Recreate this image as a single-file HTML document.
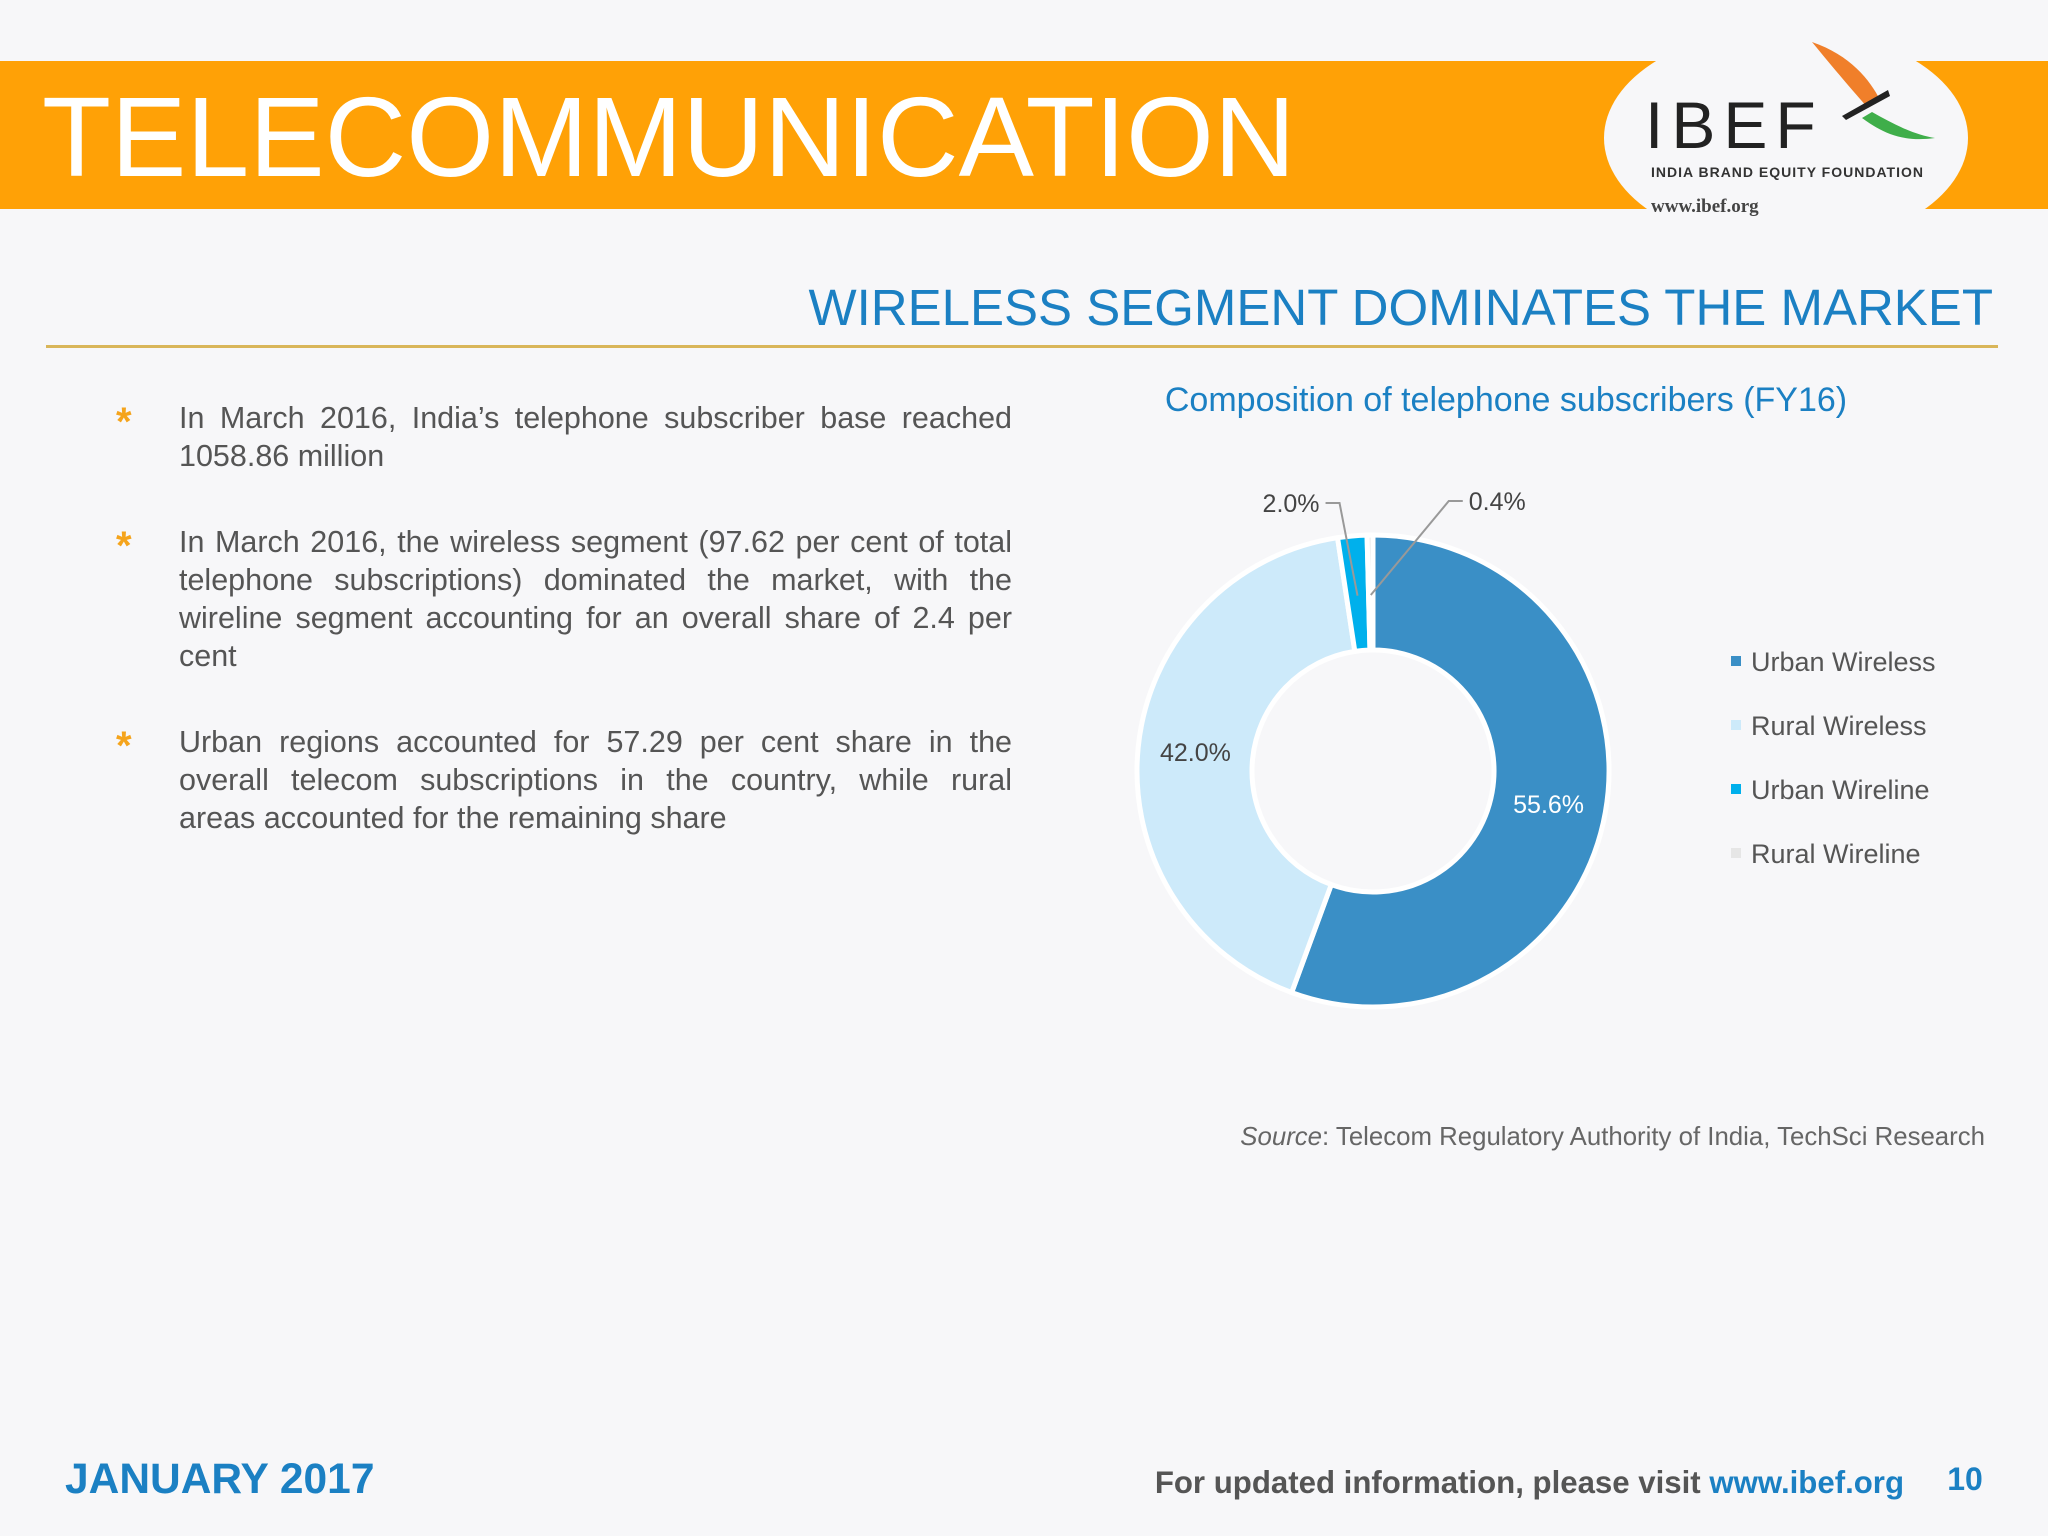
<!DOCTYPE html>
<html><head><meta charset="utf-8"><style>
html,body{margin:0;padding:0;background:#f7f7f9;}
body{width:2048px;height:1536px;overflow:hidden;font-family:"Liberation Sans",Arial,sans-serif;position:relative;}
.bul{position:absolute;left:179px;width:833px;font-size:30.5px;line-height:38px;color:#555;text-align:justify;}
.last{text-align-last:justify;}
.star{position:absolute;left:116px;font-size:40px;font-weight:bold;color:#f5a41c;line-height:40px;}
</style></head><body>
<svg id="page" style="position:absolute;left:0;top:0" width="2048" height="1536" viewBox="0 0 2048 1536" xmlns="http://www.w3.org/2000/svg" font-family="Liberation Sans, Arial, sans-serif">
<rect x="0" y="0" width="2048" height="1536" fill="#f7f7f9"/>
<rect x="0" y="61" width="2048" height="148" fill="#ffa106"/>
<text x="42" y="176" font-size="113" fill="#ffffff">TELECOMMUNICATION</text>
<g>
<ellipse cx="1786" cy="138" rx="182" ry="110" fill="#f7f7f9"/>
<text x="1645" y="148" font-size="66" fill="#222" letter-spacing="8">IBEF</text>
<path d="M1812 42 C1850 55 1870 80 1880 100 L1868 108 C1852 90 1835 70 1812 42Z" fill="#f07f2a"/>
<path d="M1872 112 C1895 125 1915 135 1935 138 C1905 142 1885 135 1862 118Z" fill="#3fae4a"/>
<path d="M1842 116 L1888 90 L1890 96 L1846 120Z" fill="#222"/>
<text x="1651" y="177" font-size="14" font-weight="bold" fill="#333" letter-spacing="1">INDIA BRAND EQUITY FOUNDATION</text>
<text x="1651" y="212" font-size="19" font-weight="bold" fill="#444" font-family="Liberation Serif, serif">www.ibef.org</text>
</g>
<text x="1993" y="325" font-size="51" fill="#1b80c3" text-anchor="end">WIRELESS SEGMENT DOMINATES THE MARKET</text>
<rect x="46" y="345" width="1952" height="3" fill="#d9b65a"/>
<text x="1506" y="411" font-size="34" fill="#1b80c3" text-anchor="middle">Composition of telephone subscribers (FY16)</text>
<g id="donut"></g>
<g id="legend"></g>
<text x="1985" y="1145" font-size="25.8" fill="#666" text-anchor="end"><tspan font-style="italic">Source</tspan>: Telecom Regulatory Authority of India, TechSci Research</text>
<text x="65" y="1493" font-size="42.5" font-weight="bold" fill="#1b80c3">JANUARY 2017</text>
<text x="1904" y="1493" font-size="31.2" font-weight="bold" fill="#555" text-anchor="end">For updated information, please visit <tspan fill="#1b80c3">www.ibef.org</tspan></text>
<text x="1965" y="1490" font-size="32" font-weight="bold" fill="#1b80c3" text-anchor="middle">10</text>
</svg>
<div class="star" style="top:402px">*</div>
<div class="bul" style="top:399px">In March 2016, India’s telephone subscriber base reached 1058.86 million</div>
<div class="star" style="top:526px">*</div>
<div class="bul" style="top:523px">In March 2016, the wireless segment (97.62 per cent of total telephone subscriptions) dominated the market, with the wireline segment accounting for an overall share of 2.4 per cent</div>
<div class="star" style="top:726px">*</div>
<div class="bul last" style="top:723px">Urban regions accounted for 57.29 per cent share in the overall telecom subscriptions in the country, while rural</div>
<div class="bul" style="top:799px">areas accounted for the remaining share</div>
<script>
const categories = ["Urban Wireless", "Rural Wireless", "Urban Wireline", "Rural Wireline"];
const values = [55.6, 42.0, 2.0, 0.4];
const valueLabels = ["55.6%", "42.0%", "2.0%", "0.4%"];
const colors = ["#3a8fc6", "#cdeafa", "#00b0ec", "#e6e6e6"];
const NS = "http://www.w3.org/2000/svg";
const cx = 1373, cy = 771, R = 236, r = 121;
const total = values.reduce((a, b) => a + b, 0);
function angleOf(v) { return v / total * Math.PI * 2; }
function pt(a, rad) { return [cx + rad * Math.sin(a), cy - rad * Math.cos(a)]; }
const donut = document.getElementById('donut');
let start = 0;
values.forEach((v, i) => {
  const end = start + angleOf(v);
  const large = (end - start) > Math.PI ? 1 : 0;
  const p1 = pt(start, R), p2 = pt(end, R), p3 = pt(end, r), p4 = pt(start, r);
  const path = document.createElementNS(NS, 'path');
  path.setAttribute('d', `M${p1[0]},${p1[1]} A${R},${R} 0 ${large} 1 ${p2[0]},${p2[1]} L${p3[0]},${p3[1]} A${r},${r} 0 ${large} 0 ${p4[0]},${p4[1]} Z`);
  path.setAttribute('fill', colors[i]);
  path.setAttribute('stroke', '#ffffff');
  path.setAttribute('stroke-width', '5');
  
  
  donut.appendChild(path);
  const mid = (start + end) / 2;
  const t = document.createElementNS(NS, 'text');
  t.setAttribute('font-size', '25');
  
  
  if (v > 10) {
    const lp = pt(mid, (R + r) / 2 + 10);
    t.setAttribute('x', lp[0] + (i === 0 ? -10 : 10)); t.setAttribute('y', lp[1] + 9);
    t.setAttribute('text-anchor', 'middle');
    t.setAttribute('fill', i === 0 ? '#ffffff' : '#444');
  } else {
    const ip = pt(mid, R - 60);
    const side = i === 2 ? -1 : 1;
    const ex = ip[0] + (i === 2 ? -18 : 78), ey = cy - R - 34 + (i === 2 ? 2 : 0);
    const hx = ex + side * 14;
    const line = document.createElementNS(NS, 'polyline');
    line.setAttribute('points', `${ip[0]},${ip[1]} ${ex},${ey} ${hx},${ey}`);
    line.setAttribute('fill', 'none');
    line.setAttribute('stroke', '#999');
    line.setAttribute('stroke-width', '2');
    
    
    donut.appendChild(line);
    t.setAttribute('x', hx + side * 6); t.setAttribute('y', ey + 9);
    t.setAttribute('text-anchor', side < 0 ? 'end' : 'start');
    t.setAttribute('fill', '#444');
  }
  t.textContent = valueLabels[i];
  donut.appendChild(t);
  start = end;
});
const legend = document.getElementById('legend');
categories.forEach((c, i) => {
  const y = 662 + i * 64;
  const sq = document.createElementNS(NS, 'rect');
  sq.setAttribute('x', 1731); sq.setAttribute('y', y - 6);
  sq.setAttribute('width', 10); sq.setAttribute('height', 10);
  sq.setAttribute('fill', colors[i]);
  
  
  legend.appendChild(sq);
  const t = document.createElementNS(NS, 'text');
  t.setAttribute('x', 1751); t.setAttribute('y', y + 9);
  t.setAttribute('font-size', '27'); t.setAttribute('fill', '#555');
  
  
  t.textContent = c;
  legend.appendChild(t);
});
</script>
</body></html>
